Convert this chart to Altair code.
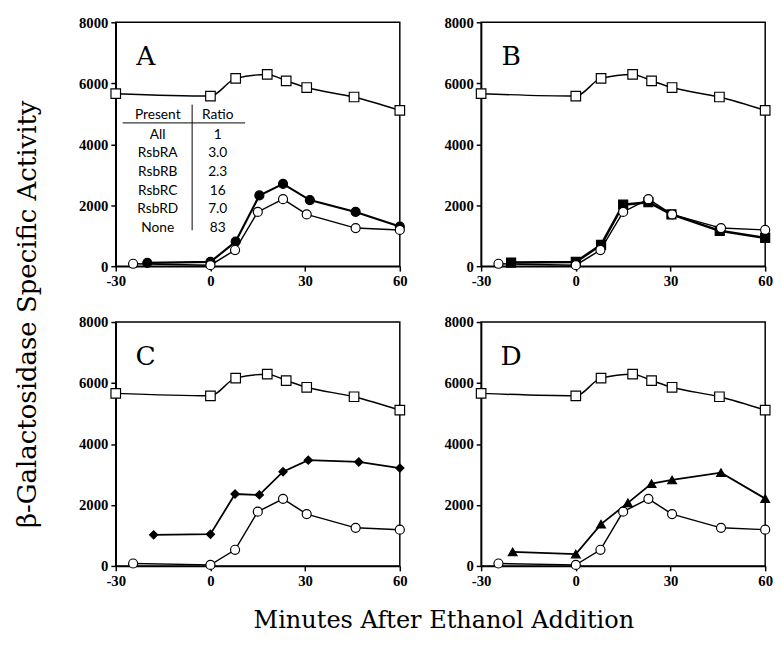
import altair as alt
import pandas as pd

# ---- data ----
sq_x = [-30, 0, 8, 18, 24, 30.5, 45.5, 60]
sq_y = [5660, 5580, 6160, 6290, 6080, 5860, 5550, 5110]

oc_x = [-24.5, 0, 7.8, 15, 23, 30.5, 46, 60]
oc_y = [80, 35, 530, 1780, 2200, 1700, 1250, 1190]

a_x = [-20, 0, 8, 15.5, 23, 31.5, 46, 60]
a_y = [110, 140, 810, 2320, 2700, 2170, 1780, 1300]

b_x = [-20.5, 0, 8, 15, 23, 30.3, 45.6, 60]
b_y = [120, 140, 700, 2020, 2100, 1700, 1160, 930]

c_x = [-18, 0, 7.8, 15.5, 23, 31, 47, 60]
c_y = [1020, 1040, 2360, 2330, 3090, 3470, 3410, 3210]

d_x = [-20, 0, 8, 16.5, 24, 30.5, 46, 60]
d_y = [460, 390, 1370, 2070, 2700, 2820, 3060, 2210]

panel_labels = ["A", "B", "C", "D"]

table_present = ["All", "RsbRA", "RsbRB", "RsbRC", "RsbRD", "None"]
table_ratio = ["1", "3.0", "2.3", "16", "7.0", "83"]
table_header = ["Present", "Ratio"]

x_ticks = [-30, 0, 30, 60]
y_ticks = [0, 2000, 4000, 6000, 8000]

y_title = "β-Galactosidase Specific Activity"
x_title = "Minutes After Ethanol Addition"

# ---- layout constants ----
PW, PH = 290, 249
SERIF = "DejaVu Serif"
TICK_FONT = "Liberation Serif"
TABLE_FONT = "Lato"
NOBOX = alt.ViewBackground(stroke="transparent")

X = lambda: alt.X("x:Q", scale=alt.Scale(domain=[-30, 60], nice=False),
                  axis=alt.Axis(values=x_ticks, title=None, labelFlush=False,
                                labelExpr="'' + datum.value"))
Y = lambda: alt.Y("y:Q", scale=alt.Scale(domain=[0, 8000], nice=False),
                  axis=alt.Axis(values=y_ticks, title=None, labelFlush=False,
                                labelExpr="'' + datum.value"))


def series(xs, ys, shape, fill, size, width=1.5, interp="linear"):
    df = pd.DataFrame({"x": xs, "y": ys})
    base = alt.Chart(df)
    line = base.mark_line(color="black", strokeWidth=width, interpolate=interp).encode(x=X(), y=Y())
    pts = base.mark_point(shape=shape, filled=True, fill=fill, stroke="black",
                          strokeWidth=1.2, size=size, opacity=1).encode(x=X(), y=Y())
    return [line, pts]


def panel(label, extra, table=False):
    layers = []
    layers += series(sq_x, sq_y, "square", "white", 95, 1.5, "monotone")
    layers += extra
    layers += series(oc_x, oc_y, "circle", "white", 85)
    lab = alt.Chart(pd.DataFrame({"x": [-20.5], "y": [6600], "t": [label]})).mark_text(
        font=SERIF, fontSize=27, baseline="alphabetic", align="center", color="black"
    ).encode(x=X(), y=Y(), text="t:N")
    layers.append(lab)
    if table:
        hdr = pd.DataFrame({"x": [-16.7, 2.3], "y": [4950, 4950], "t": table_header})
        rows = pd.DataFrame({
            "x": [-16.7] * len(table_present) + [2.3] * len(table_ratio),
            "y": [4310 - i * 612 for i in range(len(table_present))] * 2,
            "t": table_present + table_ratio,
        })
        tdf = pd.concat([hdr, rows])
        layers.append(alt.Chart(tdf).mark_text(font=TABLE_FONT, fontSize=14, baseline="middle",
                                               align="center", color="black")
                      .encode(x=X(), y=Y(), text="t:N"))
        hr = pd.DataFrame({"x": [-27.8], "x2": [11.0], "y": [4700]})
        layers.append(alt.Chart(hr).mark_rule(color="black", strokeWidth=1)
                      .encode(x=X(), x2="x2:Q", y=Y()))
        vr = pd.DataFrame({"x": [-5.8], "y": [5300], "y2": [1180]})
        layers.append(alt.Chart(vr).mark_rule(color="black", strokeWidth=1)
                      .encode(x=X(), y=Y(), y2="y2:Q"))
    return alt.layer(*layers).properties(width=PW, height=PH)


pA = panel("A", series(a_x, a_y, "circle", "black", 85, 2.2), table=True)
pB = panel("B", series(b_x, b_y, "square", "black", 85, 2.6))
pC = panel("C", series(c_x, c_y, "diamond", "black", 70, 1.8))
pD = panel("D", series(d_x, d_y, "triangle-up", "black", 80, 1.8))

grid = alt.vconcat(
    alt.hconcat(pA, pB, spacing=35),
    alt.hconcat(pC, pD, spacing=35),
    spacing=25,
)

yt = alt.Chart(pd.DataFrame({"t": [y_title]})).mark_text(
    font=SERIF, fontSize=26.5, angle=270, baseline="middle", align="center", color="black"
).encode(text="t:N", x=alt.value(15), y=alt.value(298)).properties(
    width=28, height=560, view=NOBOX)

top = alt.hconcat(yt, grid, spacing=35)

xt = alt.Chart(pd.DataFrame({"t": [x_title]})).mark_text(
    font=SERIF, fontSize=24.5, baseline="alphabetic", align="center", color="black"
).encode(text="t:N", x=alt.value(439), y=alt.value(38)).properties(
    width=700, height=40, view=NOBOX)

chart = alt.vconcat(top, xt, spacing=0).properties(
    padding={"left": 5, "top": 0, "right": 0, "bottom": 0}
).configure_view(stroke="black", strokeWidth=1.5).configure_axis(
    grid=False, domainColor="black", domainWidth=1.5, tickColor="black", tickWidth=1.5,
    tickSize=5, labelFont=TICK_FONT, labelFontWeight="bold", labelFontSize=15,
    labelColor="black", labelPadding=3
).configure_concat(spacing=0)

chart.save("out.html", embed_options={"renderer": "svg", "actions": False})
